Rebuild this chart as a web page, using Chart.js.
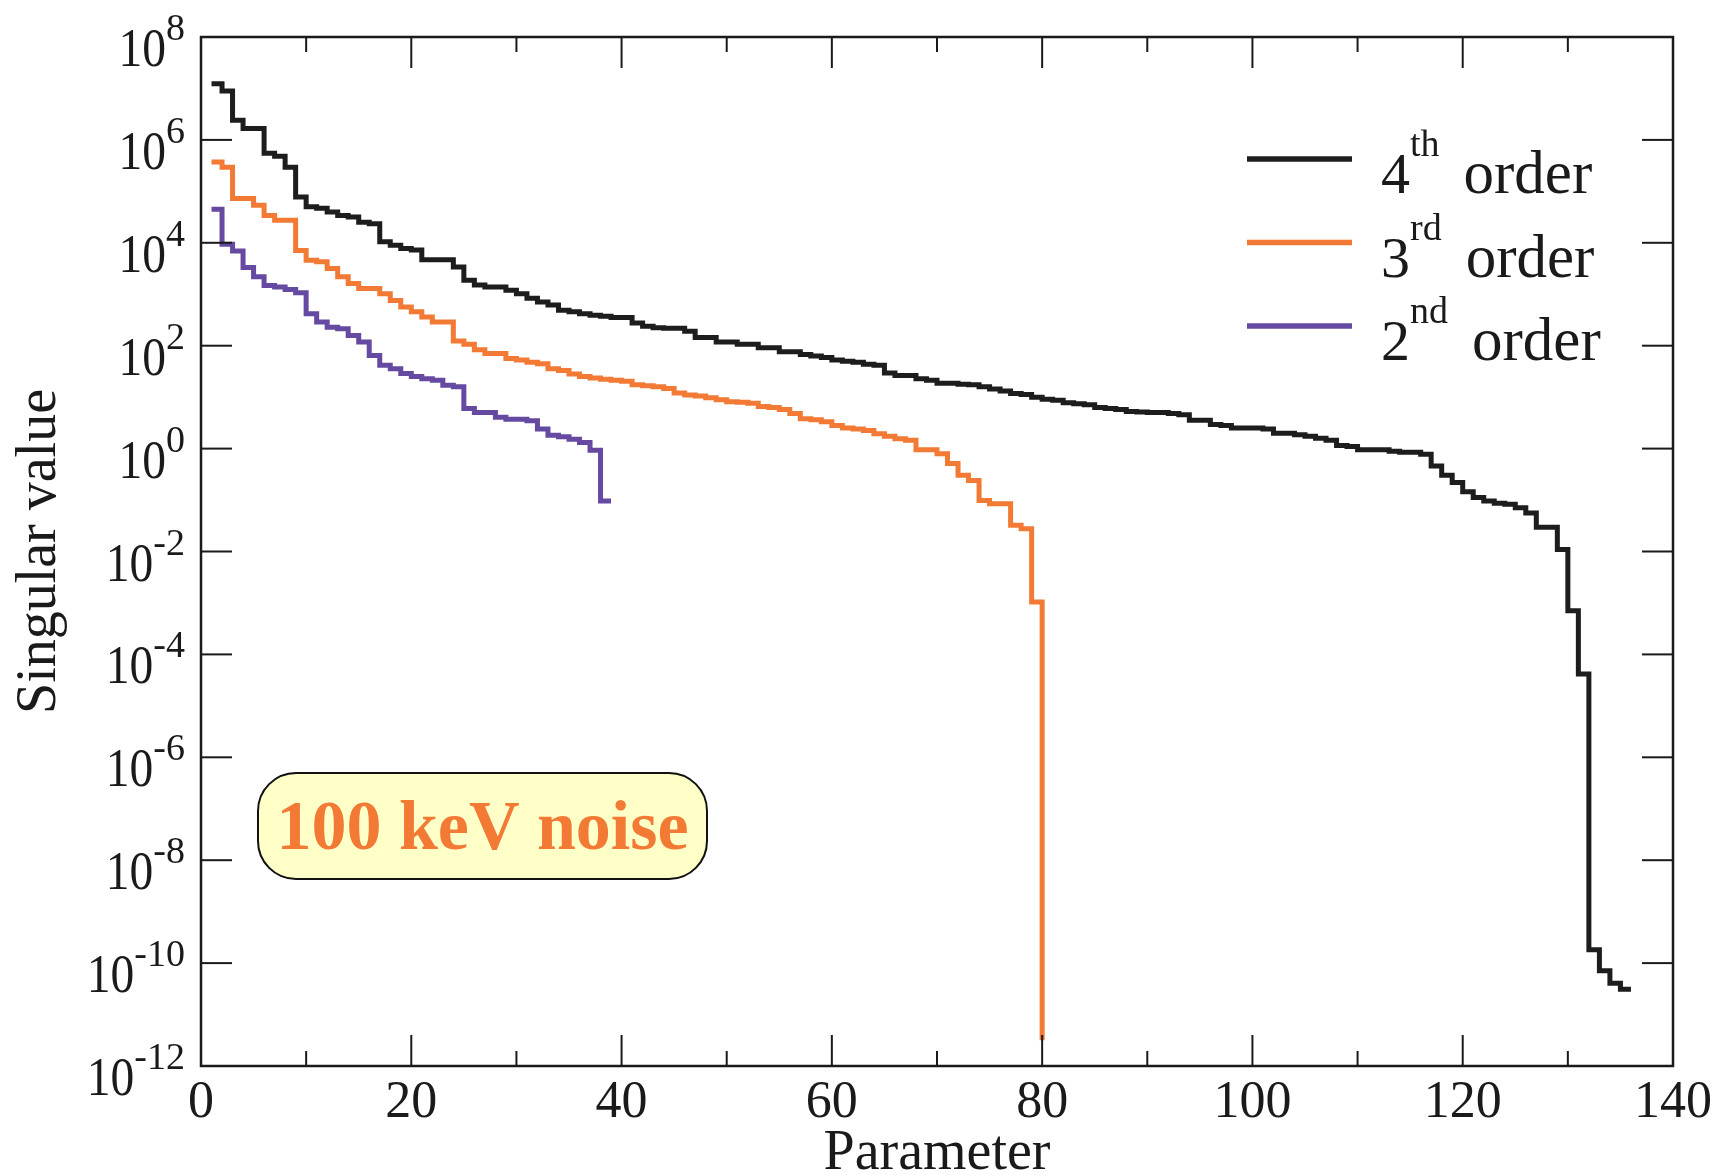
<!DOCTYPE html>
<html>
<head>
    <meta charset="UTF-8">
    <title>Singular values vs parameter</title>
    <script src="https://cdn.jsdelivr.net/npm/chart.js"></script>
    <style>
        html, body { margin: 0; padding: 0; background: #ffffff; }
        #wrap { width: 1722px; height: 1175px; position: relative; }
    </style>
</head>
<body>
<div id="wrap"><canvas id="svChart"></canvas></div>
<script>
    // log10 of the singular values, parameter index 1..N
    const order4Log = [
        7.09, 6.95, 6.38, 6.22, 6.22, 5.74, 5.68, 5.47, 4.89, 4.70,
        4.67, 4.60, 4.53, 4.50, 4.40, 4.37, 4.02, 3.95, 3.89, 3.86,
        3.67, 3.67, 3.67, 3.53, 3.27, 3.18, 3.14, 3.14, 3.08, 3.01,
        2.92, 2.85, 2.79, 2.69, 2.66, 2.62, 2.59, 2.57, 2.55, 2.55,
        2.44, 2.38, 2.35, 2.34, 2.34, 2.28, 2.16, 2.16, 2.07, 2.07,
        2.03, 2.03, 1.96, 1.96, 1.88, 1.88, 1.83, 1.80, 1.77, 1.72,
        1.70, 1.68, 1.64, 1.62, 1.47, 1.42, 1.42, 1.36, 1.33, 1.27,
        1.27, 1.25, 1.24, 1.20, 1.16, 1.12, 1.07, 1.05, 1.00, 0.96,
        0.94, 0.89, 0.87, 0.85, 0.80, 0.78, 0.76, 0.72, 0.71, 0.70,
        0.70, 0.68, 0.66, 0.55, 0.55, 0.47, 0.45, 0.40, 0.40, 0.40,
        0.38, 0.30, 0.30, 0.27, 0.24, 0.20, 0.16, 0.06, 0.04, -0.02,
        -0.02, -0.02, -0.05, -0.07, -0.07, -0.11, -0.34, -0.52, -0.66, -0.84,
        -0.95, -1.02, -1.06, -1.08, -1.15, -1.25, -1.53, -1.53, -1.96, -3.15,
        -4.38, -9.74, -10.15, -10.39, -10.51, -10.51
    ];
    const order3Log = [
        5.57, 5.47, 4.86, 4.86, 4.73, 4.53, 4.44, 4.44, 3.85, 3.66,
        3.63, 3.50, 3.34, 3.21, 3.11, 3.11, 3.01, 2.88, 2.75, 2.66,
        2.56, 2.46, 2.46, 2.09, 2.03, 1.92, 1.85, 1.85, 1.75, 1.72,
        1.68, 1.65, 1.55, 1.52, 1.45, 1.40, 1.37, 1.35, 1.33, 1.31,
        1.24, 1.22, 1.20, 1.17, 1.08, 1.04, 1.02, 0.99, 0.95, 0.91,
        0.90, 0.88, 0.82, 0.80, 0.76, 0.68, 0.58, 0.56, 0.52, 0.45,
        0.40, 0.38, 0.35, 0.29, 0.24, 0.19, 0.16, -0.02, -0.02, -0.10,
        -0.29, -0.52, -0.62, -1.01, -1.07, -1.07, -1.49, -1.56, -2.98, -11.5
    ];
    const order2Log = [
        4.65, 3.97, 3.84, 3.52, 3.34, 3.17, 3.14, 3.09, 3.03, 2.62,
        2.46, 2.36, 2.33, 2.20, 2.07, 1.81, 1.62, 1.55, 1.46, 1.40,
        1.36, 1.33, 1.23, 1.20, 0.78, 0.70, 0.70, 0.61, 0.57, 0.57,
        0.54, 0.38, 0.26, 0.23, 0.18, 0.12, -0.03, -1.02, -1.02
    ];

    const seriesDigits = ["4", "3", "2"];
    const seriesSup = ["th", "rd", "nd"];
    const seriesColors = ["#1d1d1d", "#f37a35", "#664aa2"];

    const xTickValues = [0, 20, 40, 60, 80, 100, 120, 140];
    const xMinorValues = [10, 30, 50, 70, 90, 110, 130];
    const yExponents = [8, 6, 4, 2, 0, -2, -4, -6, -8, -10, -12];

    const xTitle = "Parameter";
    const yTitle = "Singular value";
    const noteText = "100 keV noise";

    const SERIF = "'Liberation Serif', 'Times New Roman', serif";

    function toPoints(logs) {
        return logs.map((v, i) => ({ x: i + 1, y: Math.pow(10, v) }));
    }

    function seg(ctx, x1, y1, x2, y2) {
        ctx.beginPath();
        ctx.moveTo(x1, y1);
        ctx.lineTo(x2, y2);
        ctx.stroke();
    }

    function roundBox(ctx, x, y, w, h, r) {
        ctx.beginPath();
        ctx.moveTo(x + r, y);
        ctx.lineTo(x + w - r, y);
        ctx.arcTo(x + w, y, x + w, y + r, r);
        ctx.lineTo(x + w, y + h - r);
        ctx.arcTo(x + w, y + h, x + w - r, y + h, r);
        ctx.lineTo(x + r, y + h);
        ctx.arcTo(x, y + h, x, y + h - r, r);
        ctx.lineTo(x, y + r);
        ctx.arcTo(x, y, x + r, y, r);
        ctx.closePath();
    }

    // frame, inward ticks, labels, legend and the note box
    const decorations = {
        id: "decorations",
        afterDraw(chart) {
            const ctx = chart.ctx;
            const a = chart.chartArea;
            const xs = chart.scales.x;
            const ys = chart.scales.y;
            ctx.save();
            ctx.fillStyle = "#1a1a1a";
            ctx.strokeStyle = "#1a1a1a";

            // ticks
            ctx.lineWidth = 2;
            xTickValues.concat(xMinorValues).forEach(v => {
                if (v === xs.min || v === xs.max) return;
                const px = xs.getPixelForValue(v);
                const len = xMinorValues.includes(v) ? 15 : 31;
                seg(ctx, px, a.bottom, px, a.bottom - len);
                seg(ctx, px, a.top, px, a.top + len);
            });
            yExponents.forEach(e => {
                const py = ys.getPixelForValue(Math.pow(10, e));
                if (Math.abs(py - a.top) < 1 || Math.abs(py - a.bottom) < 1) return;
                seg(ctx, a.left, py, a.left + 31, py);
                seg(ctx, a.right, py, a.right - 31, py);
            });

            // frame
            ctx.lineWidth = 2.5;
            ctx.strokeRect(a.left, a.top, a.right - a.left, a.bottom - a.top);

            // x tick labels
            ctx.font = "52px " + SERIF;
            ctx.textAlign = "center";
            ctx.textBaseline = "alphabetic";
            xTickValues.forEach(v => {
                ctx.fillText(String(v), xs.getPixelForValue(v), a.bottom + 51);
            });

            // y tick labels: 10 with raised exponent
            yExponents.forEach(e => {
                const py = ys.getPixelForValue(Math.pow(10, e));
                const right = a.left - 16;
                ctx.font = "38px " + SERIF;
                ctx.textAlign = "right";
                const sup = String(e);
                const supW = ctx.measureText(sup).width;
                ctx.fillText(sup, right, py + 3);
                ctx.save();
                ctx.translate(right - supW, py + 29);
                ctx.scale(0.88, 1);
                ctx.font = "54px " + SERIF;
                ctx.textAlign = "right";
                ctx.fillText("10", 0, 0);
                ctx.restore();
            });

            // axis titles
            ctx.font = "56px " + SERIF;
            ctx.textAlign = "center";
            ctx.fillText(xTitle, (a.left + a.right) / 2, a.bottom + 103);
            ctx.save();
            ctx.translate(55, (a.top + a.bottom) / 2);
            ctx.rotate(-Math.PI / 2);
            ctx.fillText(yTitle, 0, 0);
            ctx.restore();

            // legend
            const lx0 = a.right - 426, lx1 = a.right - 321;
            chart.data.datasets.forEach((ds, i) => {
                const base = a.top + 156 + i * 83.5;
                ctx.strokeStyle = ds.borderColor;
                ctx.lineWidth = 5.5;
                seg(ctx, lx0, base - 34, lx1, base - 34);
                ctx.textAlign = "left";
                let tx = a.right - 292;
                ctx.font = "58px " + SERIF;
                ctx.fillText(seriesDigits[i], tx, base);
                tx += ctx.measureText(seriesDigits[i]).width;
                ctx.font = "38px " + SERIF;
                ctx.fillText(seriesSup[i], tx, base - 37);
                tx += ctx.measureText(seriesSup[i]).width + 24;
                ctx.font = "61px " + SERIF;
                ctx.fillText("order", tx, base);
            });

            // note box
            const bx = a.left + 57, by = a.top + 736, bw = 449, bh = 106;
            roundBox(ctx, bx, by, bw, bh, 38);
            ctx.fillStyle = "#ffffc8";
            ctx.fill();
            ctx.strokeStyle = "#111111";
            ctx.lineWidth = 2;
            ctx.stroke();
            ctx.fillStyle = "#f37a35";
            ctx.font = "bold 70px " + SERIF;
            ctx.textAlign = "center";
            ctx.fillText(noteText, bx + bw / 2, by + 76);

            ctx.restore();
        }
    };

    const datasets = [order4Log, order3Log, order2Log].map((logs, i) => ({
        label: seriesDigits[i] + seriesSup[i] + " order",
        data: toPoints(logs),
        borderColor: seriesColors[i],
        backgroundColor: seriesColors[i],
        borderWidth: 5,
        pointRadius: 0,
        stepped: true,
        fill: false
    }));

    new Chart(document.getElementById("svChart"), {
        type: "line",
        data: { datasets: datasets },
        options: {
            responsive: true,
            maintainAspectRatio: false,
            animation: false,
            layout: { padding: { top: 37, right: 49, left: 0, bottom: 0 } },
            plugins: {
                legend: { display: false },
                tooltip: { enabled: false }
            },
            scales: {
                x: {
                    type: "linear",
                    min: 0,
                    max: 140,
                    grid: { display: false },
                    border: { display: false },
                    ticks: { display: false },
                    afterFit: s => { s.height = 109; }
                },
                y: {
                    type: "logarithmic",
                    min: 1e-12,
                    max: 1e8,
                    grid: { display: false },
                    border: { display: false },
                    ticks: { display: false },
                    afterFit: s => { s.width = 201; }
                }
            }
        },
        plugins: [decorations]
    });
</script>
</body>
</html>
